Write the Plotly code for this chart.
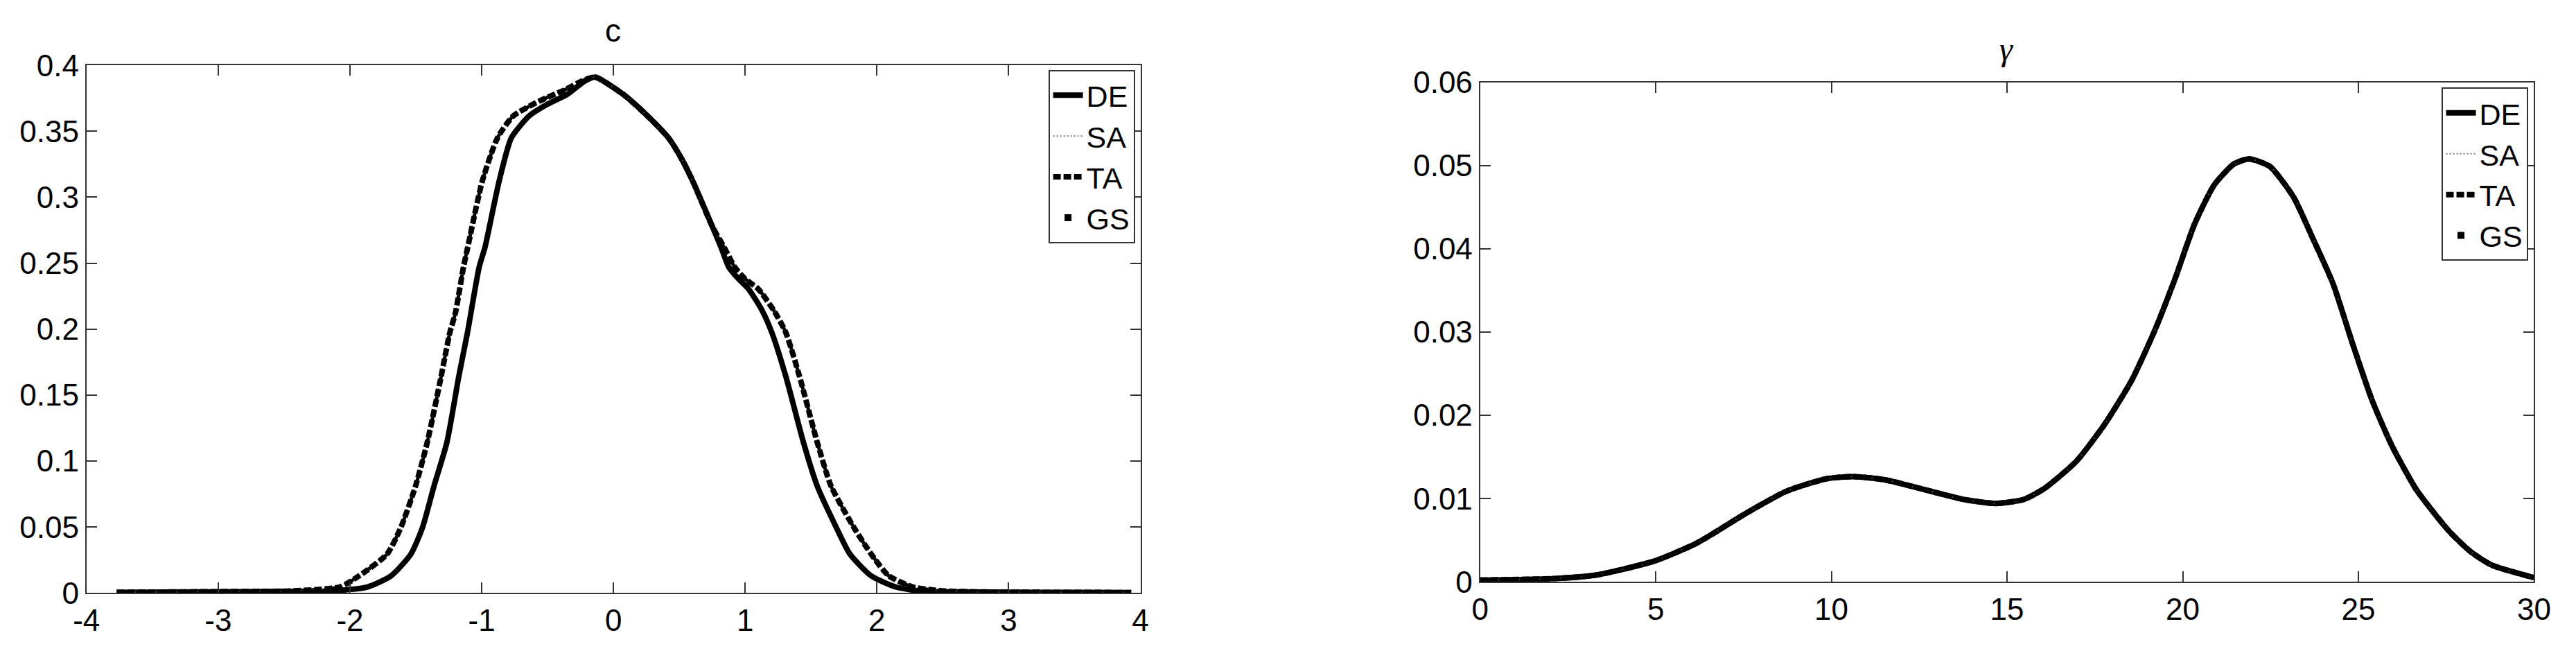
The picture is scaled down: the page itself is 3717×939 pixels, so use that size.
import plotly.graph_objects as go

# posterior density of c  (DE is a touch narrower, SA/TA/GS sit on top of each other)
c_de_x = [-3.77, -3.0, -2.5, -2.16, -1.865, -1.687, -1.537, -1.448, -1.362, -1.264, -1.174,
          -1.108, -1.019, -0.975, -0.868, -0.775, -0.64, -0.51, -0.35, -0.218, -0.138,
          0.074, 0.259, 0.418, 0.524, 0.603, 0.75, 0.817, 0.875, 0.95, 1.025, 1.13, 1.203,
          1.309, 1.442, 1.547, 1.69, 1.795, 1.956, 2.14, 2.33, 2.6, 3.0, 3.5, 3.93]
c_de_y = [0.0004, 0.0008, 0.0012, 0.0015, 0.0046, 0.013, 0.0295, 0.05, 0.081, 0.1142, 0.164,
          0.1973, 0.2471, 0.262, 0.312, 0.345, 0.3616, 0.370, 0.378, 0.388, 0.391,
          0.378, 0.3616, 0.345, 0.328, 0.312, 0.278, 0.262, 0.2471, 0.238, 0.2305, 0.2139, 0.1973,
          0.164, 0.1142, 0.081, 0.05, 0.0295, 0.013, 0.0046, 0.0015, 0.0008, 0.0005, 0.0004, 0.0003]

c_ta_x = [-3.77, -3.0, -2.46, -2.075, -1.93, -1.718, -1.612, -1.502, -1.413, -1.308, -1.242,
          -1.20, -1.138, -1.106, -0.996, -0.88, -0.76, -0.56, -0.377, -0.218, -0.138,
          0.074, 0.259, 0.418, 0.524, 0.603, 0.75, 0.84, 0.92, 1.0, 1.099, 1.219, 1.309,
          1.413, 1.547, 1.652, 1.823, 1.956, 2.09, 2.27, 2.51, 2.8, 3.2, 3.6, 3.93]
c_ta_y = [0.0005, 0.001, 0.0015, 0.0046, 0.013, 0.0295, 0.05, 0.081, 0.1142, 0.164, 0.1973,
          0.212, 0.2471, 0.262, 0.312, 0.345, 0.3616, 0.373, 0.381, 0.389, 0.391,
          0.378, 0.3616, 0.345, 0.328, 0.312, 0.278, 0.262, 0.2471, 0.238, 0.2305, 0.2139, 0.1973,
          0.164, 0.1142, 0.081, 0.05, 0.0295, 0.013, 0.0046, 0.0015, 0.0008, 0.0005, 0.0004, 0.0003]
c_sa_x, c_sa_y = c_ta_x, c_ta_y
c_gs_x, c_gs_y = c_ta_x, c_ta_y

# posterior density of gamma, all four methods agree
g_x = [0, 2.17, 3.29, 4.97, 6.1, 6.48, 7.6, 8.73, 9.85, 10.64, 11.54, 12.66, 13.78, 14.68,
       15.47, 16.07, 16.97, 17.76, 18.55, 19.22, 19.79, 20.34, 20.9, 21.46, 21.89, 22.48,
       23.15, 23.71, 24.28, 24.84, 25.4, 25.96, 26.63, 27.0, 27.6, 28.2, 28.8, 30]
g_y = [0.0002, 0.0004, 0.0008, 0.0025, 0.0045, 0.0054, 0.0083, 0.0109, 0.01237, 0.01264,
       0.01224, 0.01106, 0.00988, 0.00941, 0.00988, 0.01123, 0.01447, 0.01881, 0.02422,
       0.03035, 0.0365, 0.043, 0.0477, 0.0502, 0.0508, 0.0499, 0.04625, 0.0412, 0.0358,
       0.02855, 0.0217, 0.0163, 0.0112, 0.0091, 0.006, 0.0036, 0.002, 0.0005]

# tick labels (matlab prints a plain hyphen for the minus sign)
c_xticks = [-4, -3, -2, -1, 0, 1, 2, 3, 4]
c_xlabels = ['-4', '-3', '-2', '-1', '0', '1', '2', '3', '4']

FONT = 'Liberation Sans, Arial, sans-serif'
AX = '#333333'

fig = go.Figure()


def add_set(xs, ys, xa, ya, leg):
    (dx, dy), (sx, sy), (tx, ty), (gx, gy) = list(zip(xs, ys))
    fig.add_trace(go.Scatter(x=dx, y=dy, name='DE', mode='lines', xaxis=xa, yaxis=ya, legend=leg,
                             line=dict(color='black', width=8, shape='spline', smoothing=0.6)))
    fig.add_trace(go.Scatter(x=sx, y=sy, name='SA', mode='lines', xaxis=xa, yaxis=ya, legend=leg,
                             line=dict(color='#777777', width=2, dash='2px,3px',
                                       shape='spline', smoothing=0.6)))
    fig.add_trace(go.Scatter(x=tx, y=ty, name='TA', mode='lines', xaxis=xa, yaxis=ya, legend=leg,
                             line=dict(color='black', width=8, dash='11px,4px',
                                       shape='spline', smoothing=0.6)))
    fig.add_trace(go.Scatter(x=gx, y=gy, name='GS', mode='lines', xaxis=xa, yaxis=ya, legend=leg,
                             showlegend=False,
                             line=dict(color='black', width=5, dash='5px,5px',
                                       shape='spline', smoothing=0.6)))
    # legend entry for GS is a single dot, like the original
    fig.add_trace(go.Scatter(x=[None], y=[None], name='GS', mode='markers', xaxis=xa, yaxis=ya,
                             legend=leg, marker=dict(color='black', size=10, symbol='square')))


add_set([c_de_x, c_sa_x, c_ta_x, c_gs_x], [c_de_y, c_sa_y, c_ta_y, c_gs_y], 'x', 'y', 'legend')
add_set([g_x] * 4, [g_y] * 4, 'x2', 'y2', 'legend2')

axis_style = dict(showline=True, linecolor=AX, linewidth=2, mirror='allticks', ticks='inside',
                  ticklen=15, tickwidth=2, tickcolor=AX, showgrid=False, zeroline=False,
                  tickfont=dict(family=FONT, size=44, color='black'))

legend_style = dict(bgcolor='white', bordercolor=AX, borderwidth=2, itemwidth=43,
                    font=dict(family=FONT, size=43, color='black'),
                    xanchor='right', yanchor='top', tracegroupgap=0)

fig.update_layout(
    width=3717, height=939,
    margin=dict(l=0, r=0, t=0, b=0),
    paper_bgcolor='white', plot_bgcolor='white',
    xaxis=dict(domain=[106 / 3717, 1645 / 3717], range=[-4, 4], tickvals=c_xticks,
               ticktext=c_xlabels, anchor='y', **axis_style),
    yaxis=dict(domain=[63 / 939, 866 / 939], range=[0, 0.4], dtick=0.05, anchor='x', **axis_style),
    xaxis2=dict(domain=[2141 / 3717, 3680 / 3717], range=[0, 30], dtick=5, anchor='y2', **axis_style),
    yaxis2=dict(domain=[80 / 939, 840 / 939], range=[0, 0.06], dtick=0.01, anchor='x2', **axis_style),
    legend=dict(x=1637 / 3717, y=1 - 80 / 939, **legend_style),
    legend2=dict(x=3671 / 3717, y=1 - 107 / 939, **legend_style),
    annotations=[
        dict(text='c', x=875 / 3717, y=1 - 20 / 939, xref='paper', yref='paper', showarrow=False,
             xanchor='center', yanchor='middle', font=dict(family=FONT, size=46, color='black')),
        dict(text='<i>γ</i>', x=2909 / 3717, y=1 - 48 / 939, xref='paper', yref='paper',
             showarrow=False, xanchor='center', yanchor='middle',
             font=dict(family='Liberation Serif, DejaVu Serif, serif', size=48, color='black')),
    ],
)

fig.write_html("out.html", config={'displayModeBar': False},
               post_script="document.body.style.margin='0';")
